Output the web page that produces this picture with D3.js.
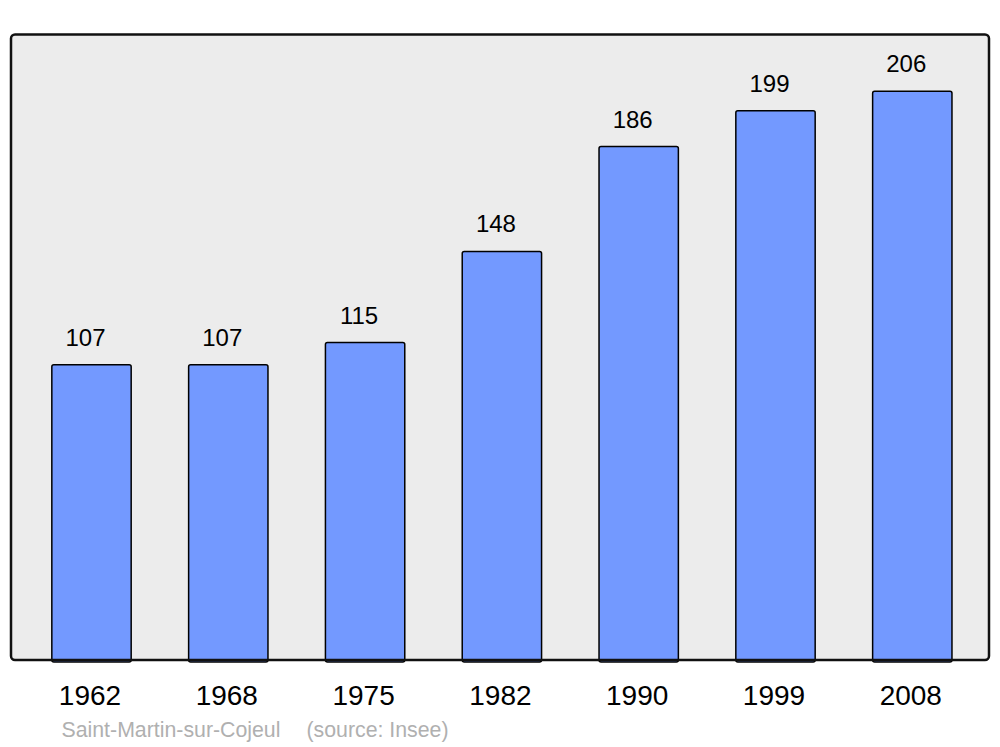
<!DOCTYPE html>
<html>
<head>
<meta charset="utf-8">
<script src="https://cdn.jsdelivr.net/npm/d3@7"></script>
<style>
  body { margin: 0; background: #fff; }
  svg { display: block; font-family: "Liberation Sans", Arial, sans-serif; }
</style>
</head>
<body>
<div id="chart"></div>
<script>
var years = ["1962", "1968", "1975", "1982", "1990", "1999", "2008"];
var population = [107, 107, 115, 148, 186, 199, 206];
var townName = "Saint-Martin-sur-Cojeul";
var sourceText = "(source: Insee)";

var width = 1000, height = 747;

// frame of the plot area
var frame = {left: 11, top: 34.5, right: 989, bottom: 660};

var svg = d3.select("#chart")
    .append("svg")
        .attr("width", width)
        .attr("height", height);

var x = d3.scaleBand()
    .domain(years)
    .range([23.1, 980.7])
    .paddingInner(0.42)
    .paddingOuter(0.21);

var y = d3.scaleLinear()
    .domain([0, d3.max(population) * 1.1])
    .range([frame.bottom, frame.top]);

// background panel
svg.append("rect")
    .attr("x", frame.left)
    .attr("y", frame.top)
    .attr("width", frame.right - frame.left)
    .attr("height", frame.bottom - frame.top)
    .attr("rx", 4)
    .attr("fill", "#ececec");

// bars
svg.selectAll(".bar")
    .data(population)
    .enter()
    .append("rect")
    .attr("class", "bar")
    .attr("x", function(d, i) { return x(years[i]); })
    .attr("y", function(d) { return y(d); })
    .attr("width", x.bandwidth())
    .attr("height", function(d) { return y(0) - y(d) + 2; })
    .attr("rx", 2)
    .attr("fill", "#7399ff")
    .attr("stroke", "#000")
    .attr("stroke-width", 1.5);

// value labels
svg.selectAll(".value")
    .data(population)
    .enter()
    .append("text")
    .attr("class", "value")
    .attr("x", function(d, i) { return x(years[i]) + x.bandwidth() / 2 - 6; })
    .attr("y", function(d) { return y(d) - 19; })
    .attr("text-anchor", "middle")
    .attr("font-size", 24)
    .attr("fill", "#000")
    .text(function(d) { return d; });

// panel border on top so bars sit inside it
svg.append("rect")
    .attr("x", frame.left)
    .attr("y", frame.top)
    .attr("width", frame.right - frame.left)
    .attr("height", frame.bottom - frame.top)
    .attr("rx", 4)
    .attr("fill", "none")
    .attr("stroke", "#111")
    .attr("stroke-width", 2.5);

// year labels
svg.selectAll(".year")
    .data(years)
    .enter()
    .append("text")
    .attr("class", "year")
    .attr("x", function(d) { return x(d) + x.bandwidth() / 2 - 1.5; })
    .attr("y", 705)
    .attr("text-anchor", "middle")
    .attr("font-size", 28)
    .attr("fill", "#000")
    .text(function(d) { return d; });

// footer
svg.append("text")
    .attr("x", 61.5)
    .attr("y", 737)
    .attr("font-size", 21.3)
    .attr("fill", "#b0b0b0")
    .text(townName);

svg.append("text")
    .attr("x", 306.5)
    .attr("y", 737)
    .attr("font-size", 21.3)
    .attr("fill", "#b0b0b0")
    .text(sourceText);
</script>
</body>
</html>
